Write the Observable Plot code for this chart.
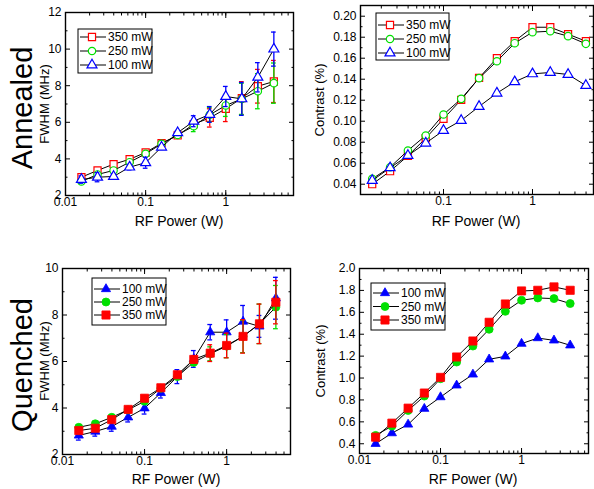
<!DOCTYPE html>
<html>
<head>
<meta charset="utf-8">
<script src="https://cdn.jsdelivr.net/npm/d3@7"></script>
<script src="https://cdn.jsdelivr.net/npm/@observablehq/plot@0.6"></script>
<style>
  html, body { margin: 0; padding: 0; background: #fff; }
  #chart { position: relative; width: 594px; height: 489px; overflow: hidden; background: #fff;
           font-family: "Liberation Sans", Arial, sans-serif; }
  #chart > svg { position: absolute; }
</style>
</head>
<body>
<div id="chart"></div>
<script>
// ---------- data ----------
const power = [0.0158, 0.0251, 0.0398, 0.0631, 0.1, 0.158, 0.251, 0.398, 0.631, 1, 1.585, 2.512, 3.981];

// Annealed, FWHM (MHz)
const aF350 = [3.00, 3.37, 3.71, 3.98, 4.35, 4.86, 5.28, 5.90, 6.24, 6.74, 7.32, 7.97, 8.23];
const aF250 = [2.77, 3.15, 3.37, 3.82, 4.28, 4.82, 5.31, 5.79, 6.41, 6.92, 7.28, 7.70, 8.14];
const aF100 = [2.87, 3.00, 3.04, 3.55, 3.79, 4.64, 5.43, 6.06, 6.43, 7.41, 7.28, 8.46, 10.0];
const aF350err = [0.15, 0.12, 0.10, 0.10, 0.10, 0.10, 0.12, 0.20, 0.50, 0.70, 0.90, 0.92, 1.15];
const aF250err = [0.12, 0.10, 0.10, 0.10, 0.10, 0.12, 0.12, 0.30, 0.40, 0.60, 0.85, 0.96, 1.10];
const aF100err = [0.20, 0.25, 0.15, 0.15, 0.30, 0.12, 0.12, 0.30, 0.43, 0.55, 0.90, 0.80, 0.93];

// Annealed, Contrast (%)
const aC350 = [0.0400, 0.0524, 0.0670, 0.0838, 0.1023, 0.1204, 0.1413, 0.1600, 0.1762, 0.1895, 0.1895, 0.1829, 0.1762];
const aC250 = [0.0451, 0.0562, 0.0721, 0.0864, 0.1064, 0.1213, 0.1410, 0.1571, 0.1743, 0.1848, 0.1857, 0.1810, 0.1737];
const aC100 = [0.0435, 0.0556, 0.0673, 0.0791, 0.0911, 0.1007, 0.1140, 0.1267, 0.1375, 0.1451, 0.1464, 0.1445, 0.1340];

// Quenched, FWHM (MHz)
const qF100 = [2.82, 2.99, 3.20, 3.60, 3.99, 4.65, 5.35, 6.11, 7.26, 7.26, 7.72, 7.51, 8.72];
const qF250 = [3.17, 3.32, 3.60, 3.92, 4.29, 4.85, 5.35, 5.97, 6.33, 6.66, 7.08, 7.62, 8.34];
const qF350 = [3.03, 3.13, 3.50, 3.94, 4.42, 4.87, 5.43, 6.09, 6.36, 6.69, 7.08, 7.62, 8.55];
const qF100err = [0.20, 0.20, 0.20, 0.20, 0.25, 0.22, 0.30, 0.36, 0.33, 0.53, 0.69, 0.47, 0.90];
const qF250err = [0.10, 0.10, 0.10, 0.10, 0.12, 0.12, 0.12, 0.15, 0.30, 0.50, 0.70, 0.85, 0.93];
const qF350err = [0.10, 0.10, 0.10, 0.10, 0.12, 0.12, 0.12, 0.15, 0.36, 0.53, 0.72, 0.85, 0.93];

// Quenched, Contrast (%)
const qC100 = [0.400, 0.497, 0.576, 0.720, 0.826, 0.933, 1.033, 1.171, 1.198, 1.314, 1.365, 1.344, 1.299];
const qC250 = [0.476, 0.561, 0.704, 0.835, 0.994, 1.146, 1.292, 1.445, 1.609, 1.710, 1.731, 1.725, 1.680];
const qC350 = [0.460, 0.588, 0.725, 0.863, 1.006, 1.192, 1.338, 1.509, 1.676, 1.795, 1.801, 1.832, 1.801];

const seriesNames = ["350 mW", "250 mW", "100 mW"];
const rowLabels = ["Annealed", "Quenched"];
const xTitle = "RF Power (W)";
const yTitles = ["FWHM (MHz)", "Contrast (%)"];
const xTickLabels = [0.01, 0.1, 1];

// ---------- styling ----------
const RED = "#ff0000", GREEN = "#00e000", BLUE = "#0000ff";
const FONT = "'Liberation Sans', Arial, sans-serif";

const makeRows = (ys, errs) => power.map((x, i) => ({ x, y: ys[i], e: errs ? errs[i] : 0 }));

function minorLog(domain) {
  const out = [];
  for (const dec of [0.001, 0.01, 0.1, 1, 10]) {
    for (let k = 1; k <= 9; k++) {
      const v = +(k * dec).toPrecision(3);
      if (v >= domain[0] && v <= domain[1]) out.push(v);
    }
  }
  return out;
}

function panel(cfg) {
  const ml = 60, mt = 10, mr = 8, mb = 26;
  const w = cfg.frame.r - cfg.frame.l, h = cfg.frame.b - cfg.frame.t;
  const xMinor = minorLog(cfg.xDomain);
  const xLab = xTickLabels.filter(v => v >= cfg.xDomain[0] && v <= cfg.xDomain[1]);
  const marks = [];
  for (const anchor of ["bottom", "top"]) {
    marks.push(Plot.axisX({ anchor, ticks: xMinor, tickSize: -2.5, tickFormat: () => "", label: null, strokeWidth: 1 }));
    marks.push(Plot.axisX({ anchor, ticks: xLab, tickSize: -5, tickFormat: () => "", label: null, strokeWidth: 1 }));
  }
  for (const anchor of ["left", "right"]) {
    marks.push(Plot.axisY({ anchor, ticks: cfg.yMinor, tickSize: -2.5, tickFormat: () => "", label: null, strokeWidth: 1 }));
    marks.push(Plot.axisY({ anchor, ticks: cfg.yMajor, tickSize: -5, tickFormat: () => "", label: null, strokeWidth: 1 }));
  }
  marks.push(Plot.axisX({ anchor: "bottom", ticks: xLab, tickSize: 0, tickPadding: 2, tickFormat: d => String(d), label: null }));
  marks.push(Plot.axisY({ anchor: "left", ticks: cfg.yMajor, tickSize: 0, tickPadding: 4, tickFormat: cfg.yFormat, label: null }));

  for (const s of cfg.series) {
    const rows = makeRows(s.y, s.err);
    if (s.err) {
      marks.push(Plot.ruleX(rows, { x: "x", y1: d => d.y - d.e, y2: d => d.y + d.e, stroke: s.color, strokeWidth: 1.3 }));
      marks.push(Plot.ruleY(rows, { x1: d => d.x / 1.07, x2: d => d.x * 1.07, y: d => d.y + d.e, stroke: s.color, strokeWidth: 1.3 }));
      marks.push(Plot.ruleY(rows, { x1: d => d.x / 1.07, x2: d => d.x * 1.07, y: d => d.y - d.e, stroke: s.color, strokeWidth: 1.3 }));
    }
    marks.push(Plot.line(rows, { x: "x", y: "y", stroke: "#000", strokeWidth: 1 }));
    marks.push(Plot.dot(rows, {
      x: "x", y: "y", symbol: s.symbol, r: s.r,
      stroke: s.color, strokeWidth: s.filled ? 0.8 : 1.2,
      fill: s.filled ? s.color : "#fff"
    }));
  }
  marks.push(Plot.frame({ stroke: "#000", strokeWidth: 1.4 }));

  const svg = Plot.plot({
    width: w + ml + mr, height: h + mt + mb,
    marginLeft: ml, marginTop: mt, marginRight: mr, marginBottom: mb,
    x: { type: "log", domain: cfg.xDomain },
    y: { type: "linear", domain: cfg.yDomain },
    style: { fontFamily: FONT, fontSize: "12px", color: "#000", background: "transparent", overflow: "visible" },
    marks
  });
  svg.style.left = (cfg.frame.l - ml) + "px";
  svg.style.top = (cfg.frame.t - mt) + "px";
  return svg;
}

const panels = [
  { frame: { l: 65, t: 12, r: 293, b: 195 }, xDomain: [0.01, 7], yDomain: [2, 12],
    yMajor: [2, 4, 6, 8, 10, 12], yMinor: [3, 5, 7, 9, 11], yFormat: d => String(d),
    series: [
      { y: aF350, err: aF350err, color: RED, symbol: "square", r: 4.0 },
      { y: aF250, err: aF250err, color: GREEN, symbol: "circle", r: 3.7 },
      { y: aF100, err: aF100err, color: BLUE, symbol: "triangle", r: 3.7 } ] },
  { frame: { l: 360, t: 5, r: 593, b: 194 }, xDomain: [0.01167, 4.85], yDomain: [0.0302, 0.2102],
    yMajor: [0.04, 0.06, 0.08, 0.10, 0.12, 0.14, 0.16, 0.18, 0.20], yMinor: [0.05, 0.07, 0.09, 0.11, 0.13, 0.15, 0.17, 0.19],
    yFormat: d3.format(".2f"),
    series: [
      { y: aC350, color: RED, symbol: "square", r: 4.0 },
      { y: aC250, color: GREEN, symbol: "circle", r: 3.7 },
      { y: aC100, color: BLUE, symbol: "triangle", r: 3.7 } ] },
  { frame: { l: 62, t: 268, r: 290, b: 454 }, xDomain: [0.01, 6], yDomain: [2, 10],
    yMajor: [2, 4, 6, 8, 10], yMinor: [3, 5, 7, 9], yFormat: d => String(d),
    series: [
      { y: qF100, err: qF100err, color: BLUE, symbol: "triangle", r: 3.4, filled: true },
      { y: qF250, err: qF250err, color: GREEN, symbol: "circle", r: 4.0, filled: true },
      { y: qF350, err: qF350err, color: RED, symbol: "square", r: 4.6, filled: true } ] },
  { frame: { l: 359, t: 268, r: 588, b: 453 }, xDomain: [0.01, 6.7], yDomain: [0.311, 2.0],
    yMajor: [0.4, 0.6, 0.8, 1.0, 1.2, 1.4, 1.6, 1.8, 2.0], yMinor: [0.5, 0.7, 0.9, 1.1, 1.3, 1.5, 1.7, 1.9],
    yFormat: d3.format(".1f"),
    series: [
      { y: qC100, color: BLUE, symbol: "triangle", r: 3.4, filled: true },
      { y: qC250, color: GREEN, symbol: "circle", r: 4.0, filled: true },
      { y: qC350, color: RED, symbol: "square", r: 4.6, filled: true } ] }
];

const chart = document.getElementById("chart");
for (const p of panels) chart.appendChild(panel(p));

// ---------- overlay: titles, row labels, legends ----------
const ov = d3.create("svg").attr("width", 594).attr("height", 489)
  .style("left", "0px").style("top", "0px").style("font-family", FONT);

function vtext(x, y, txt, size) {
  ov.append("text").attr("transform", `translate(${x},${y}) rotate(-90)`)
    .attr("text-anchor", "middle").attr("dominant-baseline", "central")
    .attr("font-size", size).attr("fill", "#000").text(txt);
}
function htext(x, y, txt, size) {
  ov.append("text").attr("x", x).attr("y", y).attr("text-anchor", "middle")
    .attr("dominant-baseline", "central").attr("font-size", size).attr("fill", "#000").text(txt);
}
vtext(22, 108, rowLabels[0], 29);
vtext(22, 365, rowLabels[1], 29);
vtext(44, 104, yTitles[0], 13);
vtext(44, 361, yTitles[0], 13);
vtext(319, 100, yTitles[1], 13);
vtext(320, 361, yTitles[1], 13);
htext(179, 221, xTitle, 14);
htext(476, 221, xTitle, 14);
htext(176, 479, xTitle, 14);
htext(473, 479, xTitle, 14);

function legend(box, rowsY, series) {
  const g = ov.append("g").attr("transform", `translate(${box.x},${box.y})`);
  g.append("rect").attr("width", box.w).attr("height", box.h)
    .attr("fill", "#fff").attr("stroke", "#000").attr("stroke-width", 1);
  series.forEach((s, i) => {
    const y = rowsY[i];
    g.append("line").attr("x1", 2).attr("x2", 28).attr("y1", y).attr("y2", y)
      .attr("stroke", "#000").attr("stroke-width", 1);
    const sym = { square: d3.symbolSquare, circle: d3.symbolCircle, triangle: d3.symbolTriangle }[s.symbol];
    g.append("path").attr("d", d3.symbol(sym, Math.PI * s.r * s.r)())
      .attr("transform", `translate(14,${y})`)
      .attr("fill", s.filled ? s.color : "#fff").attr("stroke", s.color)
      .attr("stroke-width", s.filled ? 0.8 : 1.2);
    g.append("text").attr("x", 30).attr("y", y).attr("dominant-baseline", "central")
      .attr("font-size", 12).attr("fill", "#000").text(s.name);
  });
}
const annealedLeg = [
  { name: seriesNames[0], color: RED, symbol: "square", r: 4.0 },
  { name: seriesNames[1], color: GREEN, symbol: "circle", r: 3.7 },
  { name: seriesNames[2], color: BLUE, symbol: "triangle", r: 3.7 } ];
const quenchedLeg = [
  { name: seriesNames[2], color: BLUE, symbol: "triangle", r: 3.4, filled: true },
  { name: seriesNames[1], color: GREEN, symbol: "circle", r: 4.0, filled: true },
  { name: seriesNames[0], color: RED, symbol: "square", r: 4.6, filled: true } ];
legend({ x: 78, y: 29, w: 74, h: 44 }, [8, 22, 36], annealedLeg);
legend({ x: 376, y: 13, w: 73, h: 47 }, [12, 26, 40], annealedLeg);
legend({ x: 92, y: 278, w: 74, h: 47 }, [11, 24, 37], quenchedLeg);
legend({ x: 371, y: 283, w: 74, h: 47 }, [10, 23.5, 37], quenchedLeg);

chart.appendChild(ov.node());
</script>
</body>
</html>
